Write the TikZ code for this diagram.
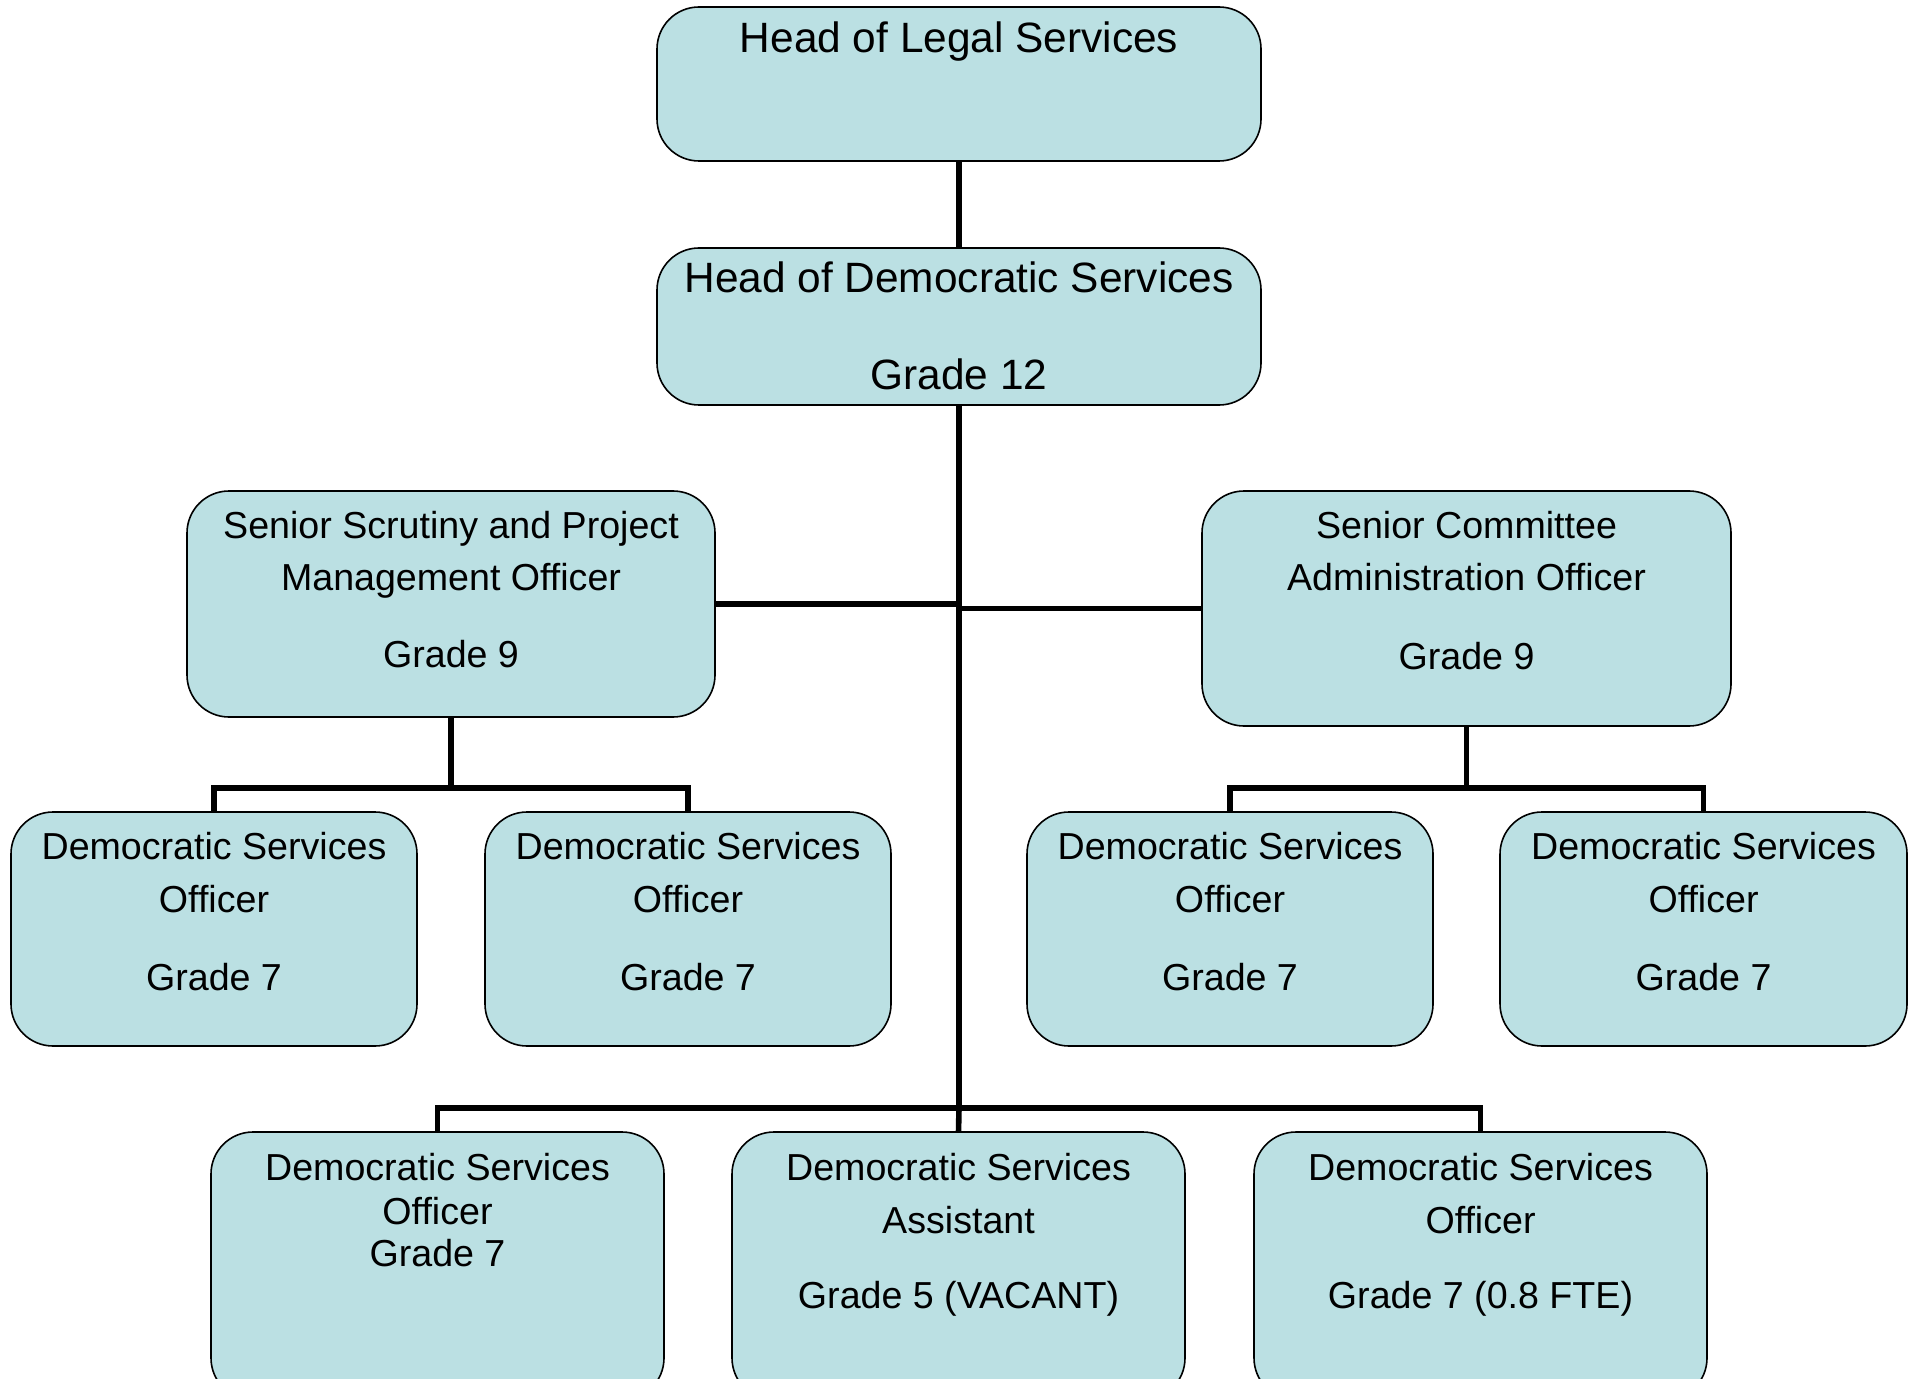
\documentclass[tikz,border=0pt]{standalone}
\usepackage{fontspec}
\setmainfont{Liberation Sans}
\definecolor{boxfill}{RGB}{187,224,227}
\tikzset{
  orgbox/.style={draw=black, line width=0.8pt, fill=boxfill, rounded corners=21pt, inner sep=0pt, outer sep=0pt},
  conn/.style={draw=black, line width=2.8pt, line join=miter},
  txt/.style={anchor=base, inner sep=0pt, font=\fontsize{18.8pt}{22pt}\selectfont},
  bigtxt/.style={anchor=base, inner sep=0pt, font=\fontsize{21.2pt}{25pt}\selectfont}
}
\newcommand\orgbx[5]{\node[orgbox, minimum width={(#4-#2)*0.5pt}, minimum height={(#5-#3)*0.5pt}] (#1) at ({(#2+#4)/2},{(#3+#5)/2}) {};}
\begin{document}
\begin{tikzpicture}[x=0.5pt, y=-0.5pt]
\clip (0,0) rectangle (1914,1379);
\fill[white] (0,0) rectangle (1914,1379);
% boxes
\orgbx{legal}{657}{7}{1261}{161}
\orgbx{hds}{657}{248}{1261}{405}
\orgbx{ss}{187}{491}{715}{717}
\orgbx{sc}{1202}{491}{1731}{726}
\orgbx{d1}{11}{812}{417}{1046}
\orgbx{d2}{485}{812}{891}{1046}
\orgbx{d3}{1027}{812}{1433}{1046}
\orgbx{d4}{1500}{812}{1907}{1046}
\orgbx{b1}{211}{1132}{664}{1400}
\orgbx{b2}{732}{1132}{1185}{1400}
\orgbx{b3}{1254}{1132}{1707}{1400}
% connectors
\coordinate (ssj) at (451,788);
\coordinate (scj) at (1466.5,788);
\coordinate (mainj) at (959,1108);
\draw[conn] (legal.south) -- (hds.south |- legal.south) -- (hds.north);
\draw[conn] (hds.south) -- (mainj) -- (b2.north);
\draw[conn] (ss.east) -- (ss.east -| mainj);
\draw[conn] (sc.west) -- (sc.west -| mainj);
\draw[conn] (ss.south) -- (ssj);
\draw[conn] (d1.north) |- (ssj) -| (d2.north);
\draw[conn] (sc.south) -- (scj);
\draw[conn] (d3.north) |- (scj) -| (d4.north);
\draw[conn] (b1.north) |- (mainj) -| (b3.north);
% texts
\node[bigtxt] (legalt) at (959,53) {Head of Legal Services};
\node[bigtxt] (hdst1) at (959,293) {Head of Democratic Services};
\node[bigtxt] (hdst2) at (959,390) {Grade 12};
\node[txt] (sst1) at (451,538) {Senior Scrutiny and Project};
\node[txt] (sst2) at (451,590) {Management Officer};
\node[txt] (sst3) at (451,667) {Grade 9};
\node[txt] (sct1) at (1466.5,538) {Senior Committee};
\node[txt] (sct2) at (1466.5,590) {Administration Officer};
\node[txt] (sct3) at (1466.5,669) {Grade 9};
\foreach \n/\cx in {d1/214, d2/688, d3/1230, d4/1703.5}{
  \node[txt] (\n t1) at (\cx,859) {Democratic Services};
  \node[txt] (\n t2) at (\cx,912) {Officer};
  \node[txt] (\n t3) at (\cx,990) {Grade 7};
}
\node[txt] (b1t1) at (437.5,1180) {Democratic Services};
\node[txt] (b1t2) at (437.5,1224) {Officer};
\node[txt] (b1t3) at (437.5,1266) {Grade 7};
\node[txt] (b2t1) at (958.5,1180) {Democratic Services};
\node[txt] (b2t2) at (958.5,1233) {Assistant};
\node[txt] (b2t3) at (958.5,1308) {Grade 5 (VACANT)};
\node[txt] (b3t1) at (1480.5,1180) {Democratic Services};
\node[txt] (b3t2) at (1480.5,1233) {Officer};
\node[txt] (b3t3) at (1480.5,1308) {Grade 7 (0.8 FTE)};
\end{tikzpicture}
\end{document}
